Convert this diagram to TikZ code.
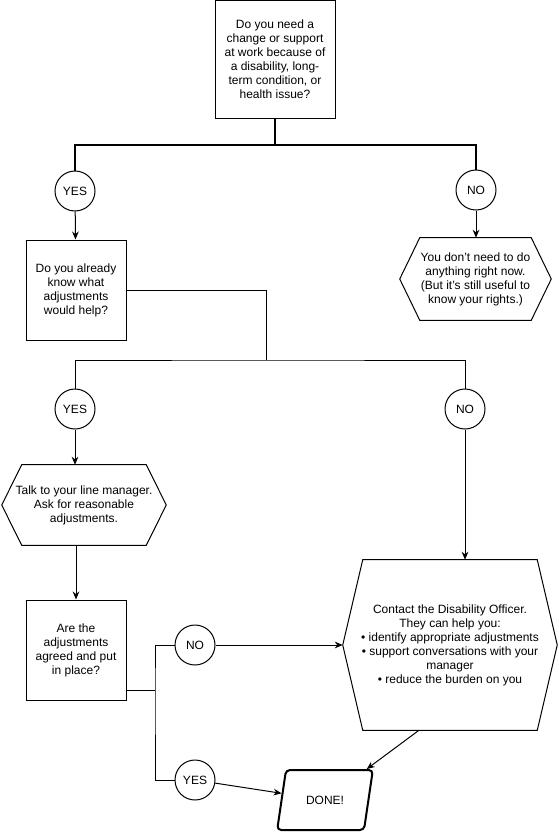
\documentclass[tikz,border=0pt]{standalone}
\usepackage{fontspec}
\setmainfont{Liberation Sans}
\usetikzlibrary{shapes.geometric,arrows.meta}

\tikzset{
    qbox/.style={draw, line width=0.75pt, align=center, inner sep=2pt,
        minimum width=75pt, minimum height=75pt},
    answer/.style={draw, circle, line width=0.75pt, minimum size=30pt, inner sep=0pt},
    hexnode/.style={align=center, inner sep=0pt},
    heavy/.style={line width=1.5pt},
    arr/.style={line width=0.75pt, -{Stealth[length=6pt,width=5pt]}},
}
% hexagon round a node: name, inset
\newcommand{\hexframe}[2]{%
    \draw[line width=0.75pt] ([xshift=#2]#1.north west) -- ([xshift=-#2]#1.north east) -- (#1.east)
        -- ([xshift=-#2]#1.south east) -- ([xshift=#2]#1.south west) -- (#1.west) -- cycle;}

\begin{document}
\begin{tikzpicture}[x=0.75pt, y=-0.75pt, font=\fontsize{9}{10.5}\selectfont]
    \useasboundingbox (0,0) rectangle (559,832);

    % Questions
    \node[qbox, minimum width=90pt, minimum height=88.5pt] (q1) at (275,59.5)
        {Do you need a\\change or support\\at work because of\\a disability, long-\\term condition, or\\health issue?};
    \node[qbox] (q2) at (76,290) {Do you already\\know what\\adjustments\\would help?};
    \node[qbox] (q3) at (76,650) {Are the\\adjustments\\agreed and put\\in place?};

    % Answers
    \node[answer] (yes1) at (75,191) {YES};
    \node[answer] (no1) at (476,190) {NO};
    \node[answer] (yes2) at (75,409) {YES};
    \node[answer] (no2) at (465,409) {NO};
    \node[answer] (no3) at (195,645) {NO};
    \node[answer] (yes3) at (195,780) {YES};

    % Steps
    \node[hexnode, minimum width=113.25pt, minimum height=61.5pt] (nothing) at (475.5,279)
        {You don’t need to do\\anything right now.\\(But it’s still useful to\\know your rights.)};
    \hexframe{nothing}{15pt}
    \node[hexnode, minimum width=123pt, minimum height=60pt] (manager) at (84,505)
        {Talk to your line manager.\\Ask for reasonable\\adjustments.};
    \hexframe{manager}{15pt}
    \node[hexnode, minimum width=160.5pt, minimum height=127.5pt] (officer) at (450,645)
        {Contact the Disability Officer.\\They can help you:\\• identify appropriate adjustments\\• support conversations with your\\manager\\• reduce the burden on you};
    \hexframe{officer}{15pt}
    \node[draw, trapezium, line width=1.5pt, rounded corners=3pt, trapezium stretches=true,
        trapezium left angle=73, trapezium right angle=107,
        minimum width=72pt, minimum height=45pt] (done) at (325,800) {DONE!};

    % Connectors
    \coordinate (split1) at (275,145);
    \coordinate (split2) at (266,360);
    \coordinate (split3) at (155,690);
    \draw[heavy] (q1) -- (split1);
    \draw[heavy] (yes1) |- (split1) -| (no1);
    \draw[arr] (yes1) -- (q2);
    \draw[arr] (no1) -- (no1 |- nothing.north);
    \draw[line width=0.75pt] (q2.east) -| (split2);
    \draw[line width=0.75pt] (yes2) |- (split2) -| (no2);
    \draw[arr] (yes2) -- (yes2 |- manager.north);
    \draw[arr] (q3 |- manager.south) -- (q3);
    \draw[arr] (no2) -- (no2 |- officer.north);
    \draw[line width=0.75pt] (q3.east |- split3) -- (split3);
    \draw[line width=0.75pt] (no3) -| (split3) |- (yes3);
    \draw[arr] (no3) -- (officer.west);
    \draw[arr] (yes3) -- (done);
    \draw[arr] (officer.250) -- (done);
\end{tikzpicture}
\end{document}
